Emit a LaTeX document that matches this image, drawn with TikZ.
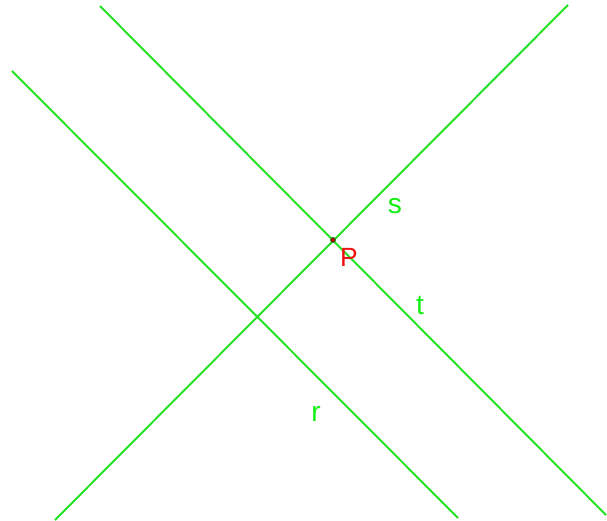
\documentclass[tikz,border=0pt]{standalone}
\usepackage{fontspec}
\setmainfont{Liberation Sans}
\usepackage{tikz}
\usetikzlibrary{positioning}
\definecolor{lngreen}{HTML}{22E022}
\definecolor{txgreen}{HTML}{10F010}
\definecolor{ptred}{HTML}{F01010}

\begin{document}
\begin{tikzpicture}[
  x=0.02cm, y=-0.02cm,
  line/.style={draw=lngreen, line width=1.1pt},
  lbl/.style={text=txgreen, font=\fontsize{16}{18}\selectfont, inner sep=0pt},
  pt/.style={circle, fill=ptred!70!black, draw=lngreen!60!black, line width=0.3pt, inner sep=0pt, minimum size=3pt},
]
  \useasboundingbox (0,0) rectangle (607,520);
  % end points of the three lines
  \coordinate (r1) at (12,71);
  \coordinate (r2) at (458,518);
  \coordinate (t1) at (100,6);
  \coordinate (t2) at (606,515);
  \coordinate (s1) at (568,5);
  \coordinate (s2) at (55,520);

  \draw[line] (r1) -- (r2);
  \draw[line] (t1) -- (t2);
  \draw[line] (s1) -- (s2);

  \node[pt] (P) at (333,240) {};
  \node[text=ptred, font=\fontsize{15}{17}\selectfont, inner sep=0pt] (Plbl) at (349,257) {P};

  \node[lbl] (slbl) at (395,206) {s};
  \node[lbl] (tlbl) at (420,306) {t};
  \node[lbl] (rlbl) at (316,414) {r};
\end{tikzpicture}
\end{document}
